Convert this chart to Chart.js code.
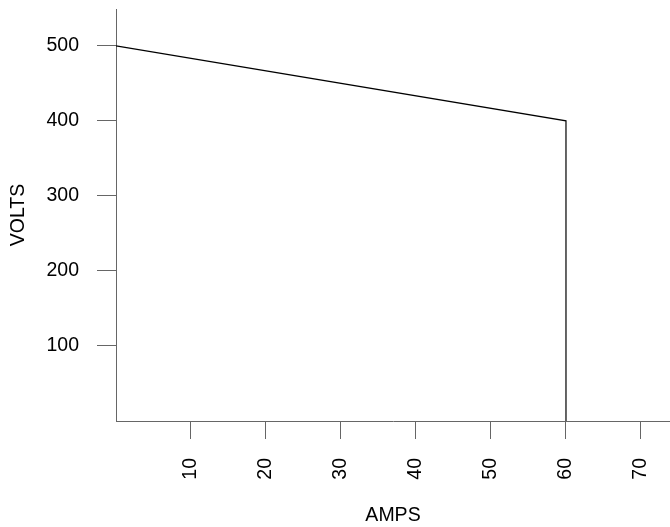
<!DOCTYPE html>
<html>
<head>
<meta charset="utf-8">
<script src="https://cdn.jsdelivr.net/npm/chart.js@4/dist/chart.umd.min.js"></script>
<style>
  body { margin: 0; background: #fff; }
  #chart { display: block; }
</style>
</head>
<body>
<canvas id="chart" width="670" height="527"></canvas>
<script>
// data
const amps = [0, 60, 60];
const volts = [500, 400, 0];
const xTicks = [10, 20, 30, 40, 50, 60, 70];
const yTicks = [100, 200, 300, 400, 500];

const axisColor = "#666";
const font = { family: "'Liberation Sans', Arial, sans-serif", size: 19.5, lineHeight: 1 };

const points = amps.map((a, i) => ({ x: a, y: volts[i] }));

// no extra room for labels at the axis ends
function noPadding(scale) {
    scale.paddingTop = 0;
    scale.paddingBottom = 0;
    scale.paddingLeft = 0;
    scale.paddingRight = 0;
}

new Chart(document.getElementById("chart").getContext("2d"), {
    type: "scatter",
    data: {
        datasets: [
            {
                data: points,
                showLine: true,
                borderColor: "#000",
                borderWidth: 1.2,
                pointRadius: 0,
                fill: false
            }
        ]
    },
    options: {
        responsive: false,
        animation: false,
        layout: { padding: { top: 9, right: 0, left: 0, bottom: 0 } },
        plugins: {
            legend: { display: false },
            tooltip: { enabled: false }
        },
        scales: {
            x: {
                type: "linear",
                min: 0,
                max: 73.87,
                afterBuildTicks: (scale) => { scale.ticks = xTicks.map(v => ({ value: v })); },
                afterFit: (scale) => { scale.height = 106; noPadding(scale); },
                border: { display: true, color: axisColor, width: 1 },
                grid: { drawOnChartArea: false, drawTicks: true, tickLength: 18, color: axisColor },
                ticks: {
                    color: "#000",
                    font: font,
                    padding: 19,
                    minRotation: 90,
                    maxRotation: 90,
                    autoSkip: false
                },
                title: {
                    display: true,
                    text: "AMPS",
                    color: "#000",
                    font: font,
                    padding: { top: 0, bottom: 2 }
                }
            },
            y: {
                type: "linear",
                min: 0,
                max: 549,
                afterBuildTicks: (scale) => { scale.ticks = yTicks.map(v => ({ value: v })); },
                afterFit: (scale) => { scale.width = 116; noPadding(scale); },
                border: { display: true, color: axisColor, width: 1 },
                grid: { drawOnChartArea: false, drawTicks: true, tickLength: 19, color: axisColor },
                ticks: {
                    color: "#000",
                    font: font,
                    padding: 18
                },
                title: {
                    display: true,
                    text: "VOLTS",
                    color: "#000",
                    font: font,
                    padding: { top: 9, bottom: 0 }
                }
            }
        }
    }
});
</script>
</body>
</html>
